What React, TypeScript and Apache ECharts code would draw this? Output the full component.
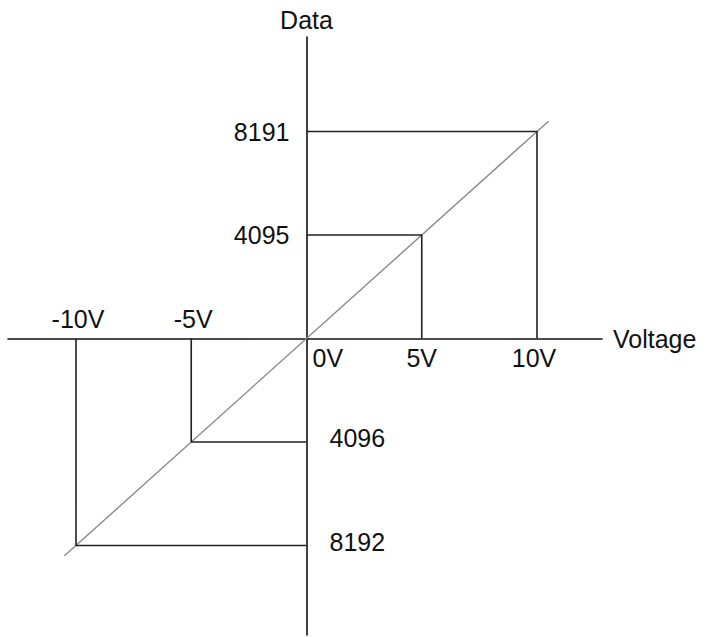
import React, { useEffect, useRef } from "react";
import * as echarts from "echarts";

const voltages = [-10, -5, 5, 10];
const voltLabels = ["-10V", "-5V", "5V", "10V"];
const codes = [-8192, -4096, 4095, 8191];
const codeLabels = ["8192", "4096", "4095", "8191"];
const zeroLabel = "0V";
const diagonal = [
  [-10.5, -8600],
  [10.5, 8600],
];
const xName = "Voltage";
const yName = "Data";

const FONT = "Liberation Sans, Arial, sans-serif";
const TEXT = "#111";
const FS = 25;

export default function App() {
  const ref = useRef<HTMLDivElement>(null);
  useEffect(() => {
    if (!ref.current) return;
    const chart = echarts.init(ref.current, null, { renderer: "svg" });
    const labelStyle = { fontSize: FS, color: TEXT, fontFamily: FONT, textBorderWidth: 0, opacity: 1 };
    const guideSeries = voltages.map((v, i) => ({
      type: "line",
      data: [
        [v, 0],
        [v, codes[i]],
        [0, codes[i]],
      ],
      symbol: "none",
      lineStyle: { color: "#222", width: 1.6 },
      silent: true,
      z: 3,
    }));
    const xLabelData = voltages.map((v, i) => ({
      value: [v, 0],
      label: {
        show: true,
        formatter: voltLabels[i],
        position: v < 0 ? "top" : "bottom",
        distance: 7,
        offset: v < 0 ? [2, 0] : v === 10 ? [-3, 0] : [0, 0],
      },
    }));
    const yLabelData = codes.map((c, i) => ({
      value: [0, c],
      label: {
        show: true,
        formatter: codeLabels[i],
        position: c < 0 ? "right" : "left",
        distance: c < 0 ? 23 : 17,
        offset: c < 0 ? [0, -4] : [0, 0],
      },
    }));
    chart.setOption({
      animation: false,
      backgroundColor: "#fff",
      textStyle: { fontFamily: FONT },
      grid: { left: 8, right: 105, top: 37, bottom: 2, containLabel: false },
      xAxis: {
        type: "value",
        min: -12.95,
        max: 12.82,
        axisLine: { onZero: true, lineStyle: { color: "#111", width: 1.6 } },
        axisTick: { show: false },
        axisLabel: { show: false },
        splitLine: { show: false },
        name: xName,
        nameLocation: "end",
        nameGap: 11,
        nameTextStyle: { fontSize: FS, color: TEXT, fontFamily: FONT, verticalAlign: "middle", align: "left" },
      },
      yAxis: {
        type: "value",
        min: -11733,
        max: 11931,
        axisLine: { onZero: true, lineStyle: { color: "#111", width: 1.6 } },
        axisTick: { show: false },
        axisLabel: { show: false },
        splitLine: { show: false },
        name: yName,
        nameLocation: "end",
        nameGap: 5,
        nameTextStyle: { fontSize: FS, color: TEXT, fontFamily: FONT, align: "center" },
      },
      series: [
        {
          type: "line",
          data: diagonal,
          symbol: "none",
          lineStyle: { color: "#8a8a8a", width: 1.4 },
          silent: true,
          z: 2,
        },
        ...guideSeries,
        {
          type: "scatter",
          symbolSize: 0,
          data: xLabelData,
          label: labelStyle,
          silent: true,
          z: 4,
        },
        {
          type: "scatter",
          symbolSize: 0,
          data: [
            {
              value: [0, 0],
              label: {
                show: true,
                formatter: zeroLabel,
                position: [6, 7],
                align: "left",
                verticalAlign: "top",
              },
            },
          ],
          label: labelStyle,
          silent: true,
          z: 4,
        },
        {
          type: "scatter",
          symbolSize: 0,
          data: yLabelData,
          label: labelStyle,
          silent: true,
          z: 4,
        },
      ],
    });
    return () => chart.dispose();
  }, []);
  return (
    <div
      ref={ref}
      style={{ position: "fixed", left: 0, top: 0, width: 707, height: 637, background: "#fff" }}
    />
  );
}
